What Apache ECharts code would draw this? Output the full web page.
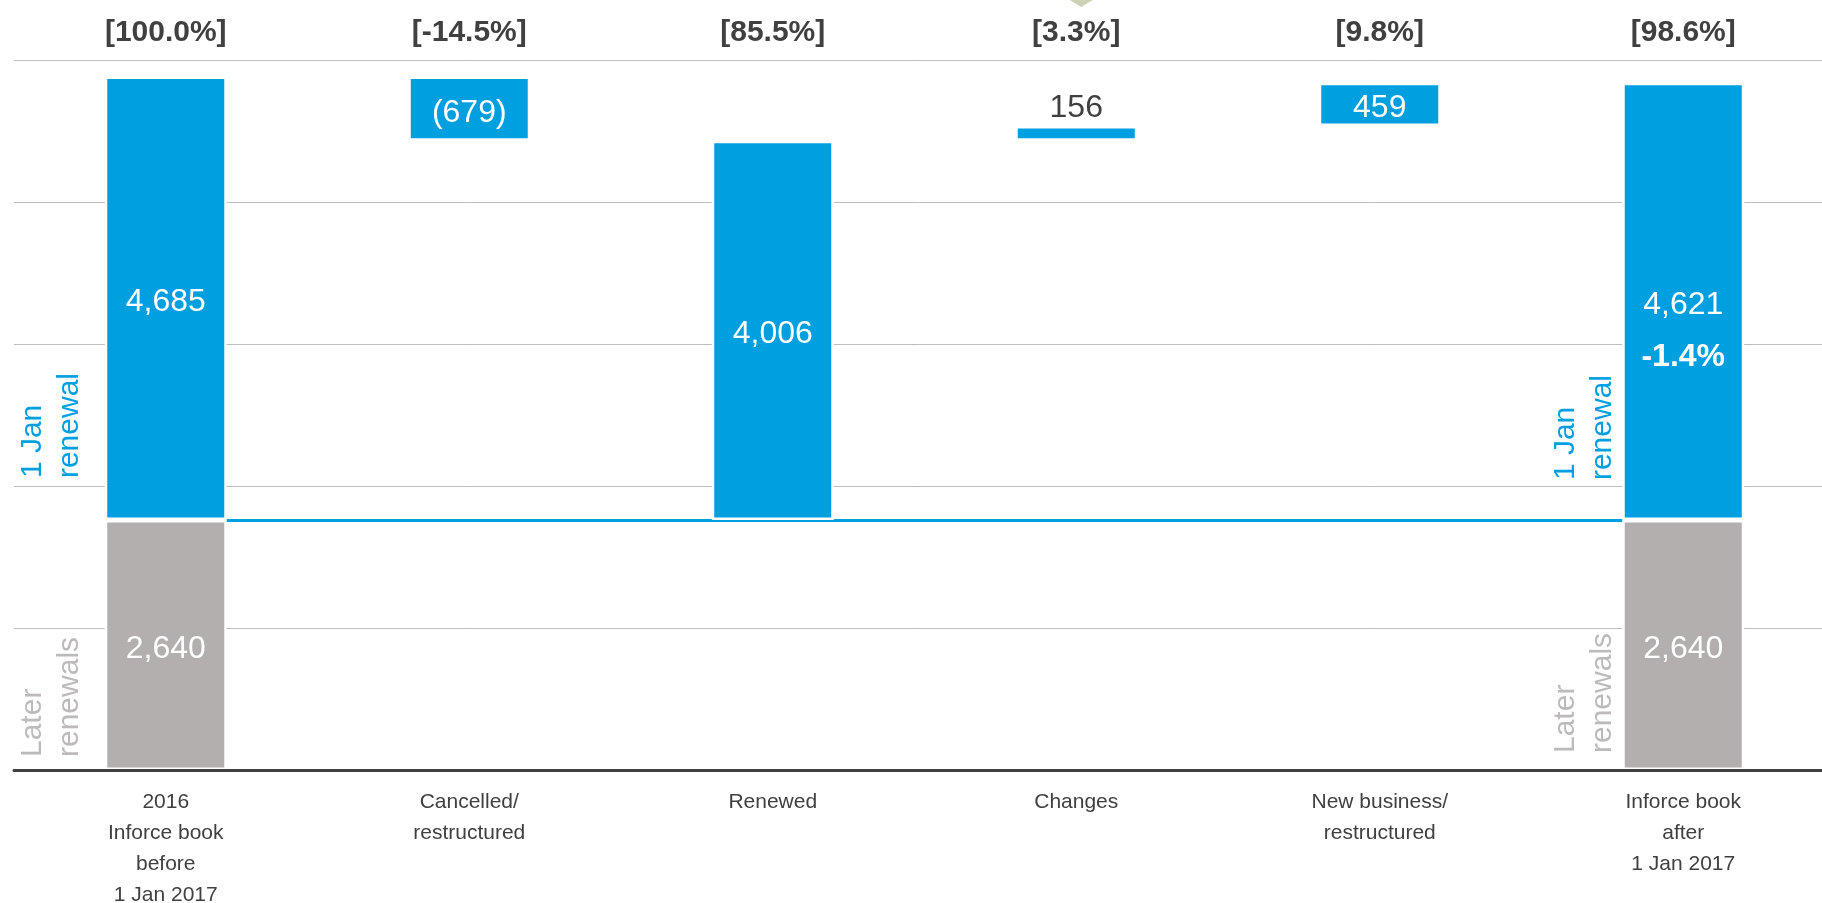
<!DOCTYPE html>
<html lang="en">
<head>
  <meta charset="UTF-8">
  <script src="https://cdn.jsdelivr.net/npm/echarts@6/dist/echarts.min.js"></script>
  <style>
    html, body { margin: 0; padding: 0; background: #fff; }
    #container { width: 1822px; height: 903px; }
  </style>
</head>
<body>
  <div id="container"></div>
  <script>
    // categories on the bottom axis
    var categories = [
      '2016\nInforce book\nbefore\n1 Jan 2017',
      'Cancelled/\nrestructured',
      'Renewed',
      'Changes',
      'New business/\nrestructured',
      'Inforce book\nafter\n1 Jan 2017'
    ];
    // share of the 1 Jan book, shown above each column
    var shareLabels = ['[100.0%]', '[-14.5%]', '[85.5%]', '[3.3%]', '[9.8%]', '[98.6%]'];
    // 1 Jan renewal block: totals and moves
    var janValues = [4685, -679, 4006, 156, 459, 4621];
    var janKinds = ['total', 'delta', 'total', 'delta', 'delta', 'total'];
    // later renewals, only under the two books
    var laterValues = [2640, null, null, null, null, 2640];
    var bookChange = '-1.4%';

    var blue = '#009fe0';
    var grey = '#b3afaf';
    var dark = '#404040';
    var font = '"Liberation Sans", Arial, sans-serif';

    function fmt(v) {
      var s = Math.abs(v).toLocaleString('en-US');
      return v < 0 ? '(' + s + ')' : s;
    }

    // build the waterfall: invisible helper + visible 1 Jan piece
    var base = laterValues[0];
    var running = 0;
    var helperData = [], janData = [], laterData = [];
    for (var i = 0; i < janValues.length; i++) {
      var v = janValues[i];
      laterData.push(laterValues[i] == null ? '-' : laterValues[i]);
      if (janKinds[i] === 'total') {
        running = v;
        helperData.push(laterValues[i] == null ? base : '-');
        janData.push({ value: v });
      } else {
        var start = running;
        running += v;
        helperData.push(base + Math.min(start, running));
        var item = { value: Math.abs(v) };
        if (Math.abs(v) < 300) {
          item.label = { position: 'top', color: dark, offset: [0, 3] };
        }
        janData.push(item);
      }
    }
    janData[janData.length - 1].label = { offset: [0, 30] };

    var myChart = echarts.init(document.getElementById('container'));

    var option = {
      animation: false,
      textStyle: { fontFamily: font },
      grid: {
        left: 14,
        width: 1821,
        top: 60,
        bottom: 133,
        containLabel: false,
        outerBoundsMode: 'none'
      },
      xAxis: [
        {
          type: 'category',
          data: categories,
          position: 'bottom',
          z: 5,
          axisTick: { show: false },
          axisLine: { lineStyle: { color: dark, width: 3 } },
          axisLabel: {
            interval: 0,
            margin: 17,
            color: dark,
            fontSize: 21,
            lineHeight: 31,
            fontFamily: font
          }
        },
        {
          type: 'category',
          data: shareLabels,
          position: 'top',
          axisTick: { show: false },
          axisLine: { show: false },
          axisLabel: {
            interval: 0,
            margin: 12,
            color: dark,
            fontSize: 30,
            fontWeight: 'bold',
            fontFamily: font
          }
        }
      ],
      yAxis: {
        type: 'value',
        min: 0,
        max: 7500,
        interval: 1500,
        axisLabel: { show: false },
        axisLine: { show: false },
        axisTick: { show: false },
        splitLine: { lineStyle: { color: '#bfbcbc', width: 1 } }
      },
      series: [
        {
          name: 'Later renewals',
          type: 'bar',
          stack: 'book',
          barWidth: 122,
          data: laterData,
          itemStyle: { color: grey, borderColor: '#fff', borderWidth: 2.5 },
          label: {
            show: true,
            position: 'inside',
            offset: [0, 4],
            color: '#fff',
            fontSize: 32,
            fontFamily: font,
            formatter: function (p) { return fmt(p.value); }
          },
          emphasis: { disabled: true }
        },
        {
          name: 'helper',
          type: 'bar',
          stack: 'book',
          z: 1,
          data: helperData,
          itemStyle: { color: 'transparent' },
          emphasis: { disabled: true },
          markLine: {
            z: 1,
            silent: true,
            symbol: 'none',
            label: { show: false },
            lineStyle: { color: blue, width: 3, type: 'solid' },
            data: [[
              { coord: [categories[0], base] },
              { coord: [categories[categories.length - 1], base] }
            ]]
          }
        },
        {
          name: '1 Jan renewal',
          type: 'bar',
          stack: 'book',
          data: janData,
          itemStyle: { color: blue, borderColor: '#fff', borderWidth: 2.5 },
          label: {
            show: true,
            position: 'inside',
            offset: [0, 4],
            color: '#fff',
            fontSize: 32,
            fontFamily: font,
            formatter: function (p) {
              var txt = fmt(janValues[p.dataIndex]);
              if (p.dataIndex === janValues.length - 1) {
                return '{v|' + txt + '}\n{p|' + bookChange + '}';
              }
              return txt;
            },
            rich: {
              v: { fontSize: 32, color: '#fff', lineHeight: 52, fontFamily: font },
              p: { fontSize: 32, color: '#fff', fontWeight: 'bold', lineHeight: 52, fontFamily: font }
            }
          },
          emphasis: { disabled: true }
        }
      ]
    };
    myChart.setOption(option);

    // side notes next to the two books, placed from the axes
    var notes = [
      { cat: 0, text: '1 Jan\nrenewal', color: blue, level: base, dx: -78, dy: -42 },
      { cat: 0, text: 'Later\nrenewals', color: '#bdbaba', level: 0, dx: -78, dy: -13 },
      { cat: 5, text: '1 Jan\nrenewal', color: blue, level: base, dx: -62, dy: -40 },
      { cat: 5, text: 'Later\nrenewals', color: '#bdbaba', level: 0, dx: -62, dy: -17 }
    ];
    var graphics = notes.map(function (n) {
      var pt = myChart.convertToPixel({ xAxisIndex: 0, yAxisIndex: 0 }, [n.cat, n.level]);
      return {
        type: 'text',
        x: pt[0] + n.dx,
        y: pt[1] + n.dy,
        rotation: Math.PI / 2,
        silent: true,
        style: {
          text: n.text,
          fill: n.color,
          fontSize: 30,
          fontFamily: font,
          lineHeight: 37,
          align: 'left',
          verticalAlign: 'bottom'
        }
      };
    });
    // small pointer cut off at the top edge
    var tip = myChart.convertToPixel({ xAxisIndex: 0, yAxisIndex: 0 }, [3, 0]);
    graphics.push({
      type: 'polygon',
      silent: true,
      shape: { points: [[tip[0] - 13, -4], [tip[0] + 23, -4], [tip[0] + 5, 7]] },
      style: { fill: '#cdd2b6' }
    });
    myChart.setOption({ graphic: graphics });
  </script>
</body>
</html>
